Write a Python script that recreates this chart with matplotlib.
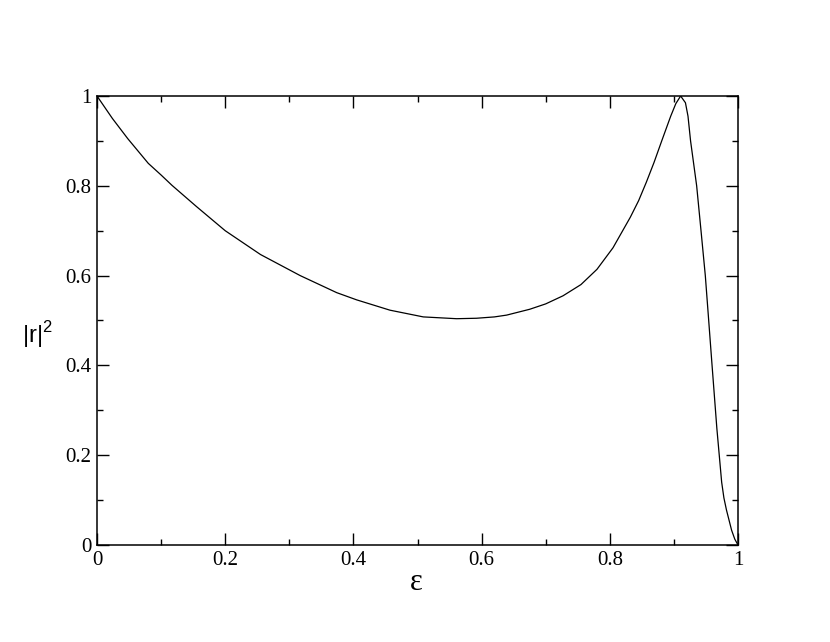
import matplotlib
matplotlib.use("Agg")
import matplotlib.pyplot as plt
from matplotlib.ticker import MultipleLocator

eps = [0.0, 0.012, 0.024, 0.048, 0.08, 0.1, 0.117, 0.155, 0.2, 0.255, 0.317,
       0.374, 0.405, 0.457, 0.509, 0.561, 0.592, 0.62, 0.639, 0.675, 0.7,
       0.727, 0.755, 0.78, 0.805, 0.832, 0.845, 0.857, 0.869, 0.881, 0.895, 0.903,
       0.9105, 0.918, 0.922, 0.926, 0.9355, 0.9423, 0.949, 0.9535, 0.959,
       0.967, 0.9745, 0.978, 0.982, 0.990, 0.995, 1.0]
r2 = [1.0, 0.975, 0.95, 0.905, 0.85, 0.824, 0.801, 0.754, 0.7, 0.647, 0.6,
      0.562, 0.546, 0.523, 0.508, 0.504, 0.505, 0.508, 0.512, 0.525, 0.537,
      0.555, 0.58, 0.614, 0.662, 0.73, 0.767, 0.808, 0.852, 0.9, 0.955, 0.983,
      1.0, 0.985, 0.955, 0.9, 0.8, 0.7, 0.6, 0.515, 0.41,
      0.26, 0.14, 0.105, 0.078, 0.033, 0.013, 0.0]
xticks = [0, 0.2, 0.4, 0.6, 0.8, 1]
xticklabels = ["0", "0.2", "0.4", "0.6", "0.8", "1"]
yticks = [0, 0.2, 0.4, 0.6, 0.8, 1]
yticklabels = ["0", "0.2", "0.4", "0.6", "0.8", "1"]

fig = plt.figure(figsize=(8.3, 6.42), dpi=100)
ax = fig.add_axes([97/830, 1 - 545/642, (738-97)/830, (545-96)/642])
ax.plot(eps, r2, color="black", lw=0.9, solid_joinstyle="round")
ax.set_xlim(0, 1)
ax.set_ylim(0, 1)
ax.set_xticks(xticks)
ax.set_xticklabels(xticklabels)
ax.set_yticks(yticks)
ax.set_yticklabels(yticklabels)
ax.xaxis.set_minor_locator(MultipleLocator(0.1))
ax.yaxis.set_minor_locator(MultipleLocator(0.1))
ax.tick_params(which="both", direction="in", top=True, right=True, width=1.0)
ax.tick_params(which="major", length=8.5, pad=4)
ax.tick_params(which="minor", length=4.3)
for lab in ax.get_xticklabels() + ax.get_yticklabels():
    lab.set_fontfamily("Liberation Serif")
    lab.set_fontsize(15)
for s in ax.spines.values():
    s.set_linewidth(1.1)

fig.text(416/830, 1 - 582/642, "ε", family="Liberation Serif", fontsize=22,
         ha="center", va="center")
fig.text(37/830, 1 - 335/642, r"|r|$^{\mathregular{2}}$", family="Liberation Sans",
         fontsize=17, ha="center", va="center")

fig.savefig("out.png", dpi=100)
